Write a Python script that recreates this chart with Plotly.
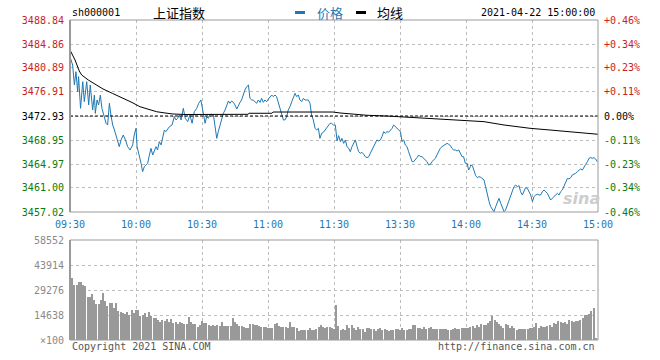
import plotly.graph_objects as go

W, H = 660, 360

# ---------------- data ----------------
symbol = "sh000001"
name = "上证指数"
stamp = "2021-04-22 15:00:00"
prev_close = 3472.93

price_ticks = [3457.02, 3461.00, 3464.97, 3468.95, 3472.93, 3476.91, 3480.89, 3484.86, 3488.84]
price_labels = ["3457.02", "3461.00", "3464.97", "3468.95", "3472.93", "3476.91", "3480.89", "3484.86", "3488.84"]
pct_labels = ["-0.46%", "-0.34%", "-0.23%", "-0.11%", "0.00%", "+0.11%", "+0.23%", "+0.34%", "+0.46%"]
time_ticks = [0, 30, 60, 90, 120, 150, 180, 210, 240]
time_labels = ["09:30", "10:00", "10:30", "11:00", "11:30", "13:30", "14:00", "14:30", "15:00"]
vol_ticks = [0, 14638, 29276, 43914, 58552]
vol_labels = ["×100", "14638", "29276", "43914", "58552"]

# price (trading minutes after 09:30, index points)
t_min = [0, 1.2, 2.0, 2.7, 3.5, 3.9, 4.8, 5.8, 6.5, 7.6, 8.5, 9.2, 10.3, 11.1, 11.5, 12.3, 13.0, 13.8, 14.5, 15.2,
         16.4, 17.1, 17.9, 18.6, 19.4, 20.2, 20.9, 21.7, 22.4, 23.2, 24.2, 25.2, 26.2, 27.3, 28.5, 29.2, 30.0, 30.5,
         31.5, 32.3, 33.0, 33.8, 34.5, 35.3, 36.1, 36.8, 37.6, 38.3, 39.1, 39.8, 40.6, 41.4, 42.1, 42.9, 43.6, 45.2,
         46.4, 47.4, 48.2, 48.9, 49.7, 50.5, 51.5, 52.4, 53.5, 54.5, 55.5, 56.5, 57.6, 58.5, 59.5, 60.6, 61.4, 62.1,
         62.9, 63.6, 64.4, 65.2, 65.9, 66.7, 67.4, 68.2, 68.9, 69.7, 70.5, 71.2, 72.0, 72.7, 73.5, 74.2, 75.0, 75.8,
         76.5, 77.3, 78.0, 78.8, 79.5, 80.3, 81.1, 81.8, 82.6, 83.3, 84.1, 84.8, 85.6, 86.4, 87.1, 87.9, 88.6, 89.4,
         90.2, 90.9, 91.7, 92.4, 93.2, 93.9, 94.7, 95.5, 96.2, 97.0, 97.7, 98.5, 99.2, 100.0, 100.8, 101.5, 102.3,
         103.0, 103.8, 104.5, 105.3, 106.1, 106.8, 107.6, 108.3, 109.1, 109.8, 110.6, 111.4, 112.1, 112.9, 113.6,
         114.4, 115.2, 115.9, 116.7, 117.4, 118.2, 118.9, 119.7, 120.6,
         121.4, 122.1, 122.9, 123.6, 124.4, 125.2, 125.9, 126.7, 127.4, 128.2, 128.9, 129.7, 130.5, 131.2, 132.0,
         132.7, 133.5, 134.2, 135.0, 135.8, 136.5, 137.3, 138.0, 138.8, 139.5, 140.3, 141.1, 141.8, 142.6, 143.3,
         144.1, 144.8, 145.6, 146.4, 147.1, 147.9, 148.6, 149.4, 150.2, 150.9, 151.7, 152.4, 153.2, 153.9, 154.7,
         155.5, 156.2, 157.0, 157.7, 158.5, 159.2, 160.0, 160.8, 161.5, 162.3, 163.0, 163.8, 164.5, 165.3, 166.1,
         166.8, 167.6, 168.3, 169.1, 169.8, 170.6, 171.4, 172.1, 172.9, 173.6, 174.4, 175.2, 175.9, 176.7, 177.4,
         178.2, 178.9, 179.7, 180.5, 181.2, 182.0,
         182.1, 182.9, 183.6, 184.4, 185.2, 185.9, 186.7, 187.4, 188.2, 188.9, 189.7, 190.5, 191.2, 192.0, 192.7,
         193.5, 194.2, 195.0, 195.8, 196.5, 197.3, 198.0, 198.8, 199.5, 200.3, 201.1, 201.8, 202.6, 203.3, 204.1,
         204.8, 205.6, 206.4, 207.1, 207.9, 208.6, 209.4, 210.2, 210.9, 211.7, 212.4, 213.2, 213.9, 214.7, 215.5,
         216.2, 217.0, 217.7, 218.5, 219.2, 220.0, 220.8, 221.5, 222.3, 223.0, 223.8, 224.5, 225.3, 226.1, 226.8,
         227.6, 228.3, 229.1, 229.8, 230.6, 231.4, 232.1, 232.9, 233.6, 234.4, 235.2, 235.9, 236.7, 237.4, 238.2,
         238.9, 239.7]
price = [3482.77, 3481.38, 3478.07, 3480.28, 3476.96, 3479.45, 3474.20, 3478.62, 3475.31, 3478.62, 3474.76, 3478.07,
         3473.93, 3476.41, 3473.37, 3475.58, 3474.76, 3476.41, 3474.20, 3473.10, 3471.72, 3471.44, 3475.03, 3473.10,
         3471.44, 3470.61, 3469.78, 3468.96, 3467.85, 3468.96, 3469.78, 3468.96, 3467.85, 3467.30, 3468.13, 3469.78,
         3470.89, 3467.85, 3466.47, 3465.09, 3463.71, 3464.54, 3464.81, 3465.09, 3466.47, 3467.57, 3466.47, 3467.30,
         3467.85, 3467.30, 3468.68, 3468.13, 3469.51, 3470.61, 3470.34, 3471.17, 3471.44, 3472.82, 3472.27, 3472.55,
         3473.10, 3472.27, 3474.20, 3472.55, 3471.99, 3473.10, 3471.72, 3473.65, 3474.20, 3475.03, 3475.58, 3473.65,
         3471.72, 3472.82, 3472.55, 3473.10, 3473.21, 3473.10, 3470.89, 3469.23, 3470.34, 3471.44, 3472.55, 3473.37,
         3473.93, 3474.76, 3475.42, 3475.03, 3475.42, 3475.20, 3474.76, 3474.09, 3474.76, 3475.20, 3475.58, 3476.69,
         3477.24, 3477.79, 3478.07, 3475.86, 3475.58, 3475.58, 3475.20, 3475.03, 3475.58, 3475.20, 3475.86, 3475.20,
         3475.58, 3475.31, 3475.75, 3476.14, 3476.41, 3476.14, 3476.41, 3476.14, 3475.20, 3474.20, 3473.10, 3472.27,
         3472.27, 3472.82, 3473.93, 3474.48, 3475.31, 3475.86, 3476.69, 3476.14, 3476.41, 3475.58, 3475.31, 3475.86,
         3475.58, 3475.58, 3475.58, 3475.03, 3473.10, 3472.27, 3470.89, 3470.61, 3470.89, 3469.23, 3470.06, 3470.23,
         3470.61, 3470.89, 3471.44, 3471.72, 3471.72, 3471.44, 3471.44,
         3468.79, 3469.67, 3468.68, 3469.23, 3468.40, 3468.96, 3467.85, 3467.57, 3467.02, 3467.85, 3468.40, 3468.96,
         3467.85, 3467.02, 3466.75, 3466.91, 3466.58, 3466.19, 3466.03, 3466.19, 3466.75, 3467.30, 3467.85, 3468.40,
         3468.96, 3468.79, 3468.96, 3469.51, 3470.34, 3470.06, 3470.34, 3470.23, 3470.61, 3470.89, 3471.44, 3471.17,
         3470.89, 3470.72, 3470.34, 3468.68, 3468.96, 3468.13, 3467.85, 3467.02, 3466.19, 3465.36, 3465.36, 3465.64,
         3466.03, 3466.47, 3466.19, 3466.19, 3465.92, 3465.64, 3465.36, 3464.81, 3464.92, 3465.36, 3465.64, 3465.92,
         3466.47, 3467.02, 3467.57, 3467.85, 3468.02, 3468.13, 3468.40, 3468.24, 3468.02, 3467.57, 3467.30, 3467.30,
         3467.13, 3467.30, 3466.75, 3466.19, 3466.19, 3465.09, 3465.09, 3463.98, 3464.54,
         3464.81, 3464.70, 3463.98, 3463.04, 3462.71, 3462.88, 3462.77, 3462.60, 3462.33, 3461.22, 3459.84, 3458.74,
         3457.91, 3457.36, 3457.08, 3457.91, 3458.74, 3459.29, 3458.46, 3457.63, 3457.08, 3457.36, 3458.18, 3459.01,
         3459.56, 3460.39, 3461.22, 3461.50, 3461.22, 3461.39, 3460.39, 3459.84, 3460.67, 3461.06, 3460.94, 3460.39,
         3459.84, 3458.74, 3459.56, 3459.84, 3459.95, 3459.84, 3459.84, 3460.39, 3460.67, 3460.39, 3460.11, 3459.56,
         3459.01, 3459.29, 3459.56, 3459.84, 3460.11, 3459.84, 3460.39, 3460.67, 3461.22, 3461.77, 3462.60, 3462.49,
         3462.71, 3463.16, 3463.27, 3463.43, 3463.71, 3463.98, 3464.15, 3463.98, 3464.54, 3464.92, 3465.36, 3465.92,
         3466.03, 3465.92, 3466.03, 3465.81, 3465.36]

# average line
avg_t = [0, 2.3, 4.2, 5.3, 8.3, 11.4, 15.0, 19.4, 24.1, 28.2, 31.8, 35.5, 39.4, 43.2, 46.8, 52.3, 80.9, 81.4,
         91.8, 92.3, 119.5, 122.7, 128.2, 135.0, 144.1, 155.9, 162.3, 169.1, 179.1, 188.2, 197.3, 209.1, 218.2,
         225.9, 233.6, 240]
avg_p = [3483.87, 3482.21, 3480.39, 3479.73, 3478.90, 3478.23, 3477.41, 3476.66, 3475.91, 3475.17, 3474.47,
         3474.01, 3473.64, 3473.43, 3473.26, 3473.18, 3473.21, 3473.38, 3473.38, 3473.59, 3473.59, 3473.43,
         3473.21, 3473.05, 3472.93, 3472.71, 3472.55, 3472.38, 3472.23, 3471.99, 3471.44, 3470.89, 3470.61,
         3470.33, 3470.06, 3469.90]

# volume (x100 shares), one bar per minute
vol_am = [36497, 32204, 32204, 33765, 33765, 32204, 31812, 25372, 25372, 26934,
          23421, 21079, 21079, 23421, 27519, 23031, 19908, 21470, 21470, 18931,
          21470, 16980, 16200, 15900, 15030, 16200, 14638, 17566, 15614, 17566,
          17566, 14248, 14638, 15614, 13662, 16200, 14248, 13077, 13077, 11710,
          10735, 11710, 11125, 12296, 10735, 12101, 10149, 10735, 9173, 10344,
          9759, 9173, 9173, 13272, 10735, 9564, 9564, 7806, 8783, 11125,
          10149, 9759, 8783, 8392, 8783, 8392, 8783, 8392, 10735, 8392,
          8392, 8392, 8392, 12686, 10344, 9173, 8392, 8392, 7806, 6831,
          7221, 9173, 9368, 8783, 8783, 8197, 7806, 7806, 7416, 6831,
          7221, 6831, 9173, 10149, 8392, 7806, 7806, 7806, 6831, 10735,
          7806, 7806, 7221, 5465, 5855, 5855, 5855, 5855, 6831, 5855,
          5855, 6441, 7416, 8783, 7806, 6831, 7806, 7806, 6831, 6441]
vol_pm = [20493, 8392, 5855, 6441, 5855, 8783, 7221, 8783, 6831, 5855,
          7806, 6246, 6246, 4879, 7221, 6831, 6441, 6441, 5465, 6441,
          7221, 5855, 6246, 5855, 5465, 5855, 5855, 6246, 6246, 5855,
          6831, 5855, 5855, 6246, 6246, 8783, 8783, 7221, 7221, 6441,
          7611, 6246, 6831, 7806, 6441, 6246, 6441, 6246, 6246, 6441,
          6246, 5855, 5855, 6246, 6831, 6441, 6246, 6831, 6831, 7221,
          7221, 7806, 8392, 7221, 8783, 7806, 9173, 8783, 8783, 9759,
          11125, 14248, 11710, 10735, 9173, 8392, 7221, 9173, 8783, 7221,
          8392, 7221, 5855, 6246, 6246, 6441, 6441, 6441, 7221, 6831,
          7806, 9759, 7221, 8392, 7806, 7806, 8392, 8783, 7806, 9759,
          9173, 11125, 10344, 9759, 10344, 9173, 11710, 11125, 10735, 11125,
          11125, 11710, 12686, 14638, 14638, 15030, 16980, 18931, 976]
volume = vol_am + vol_pm
vol_minute = list(range(1, len(volume) + 1))

# ---------------- styling ----------------
RED = "#c81e1e"
GREEN = "#0b7a0b"
BLUE = "#1f78b4"
GRID = "#bdbdbd"
BORDER = "#9a9a9a"
MONO = "DejaVu Sans Mono"
CJK = "Noto Sans CJK SC"


def px(x):
    return x / W


def py(y):
    return 1 - y / H


def colour_for(v):
    if v > prev_close + 0.001:
        return RED
    if v < prev_close - 0.001:
        return GREEN
    return "#000000"


left_text = [f"<span style='color:{colour_for(v)}'>{t}</span>" for v, t in zip(price_ticks, price_labels)]
right_text = [f"<span style='color:{colour_for(v)}'>{t}</span>" for v, t in zip(price_ticks, pct_labels)]

fig = go.Figure()
fig.add_trace(go.Scatter(x=t_min, y=price, mode="lines", line=dict(color=BLUE, width=1),
                         xaxis="x", yaxis="y", hoverinfo="skip", showlegend=False))
fig.add_trace(go.Scatter(x=avg_t, y=avg_p, mode="lines", line=dict(color="#000000", width=1),
                         xaxis="x", yaxis="y2", hoverinfo="skip", showlegend=False))
fig.add_trace(go.Bar(x=vol_minute, y=volume, width=0.45, marker=dict(color="#999999", line=dict(width=0)),
                     xaxis="x2", yaxis="y3", hoverinfo="skip", showlegend=False))

xdom = [px(70), px(598)]
common_grid = dict(showgrid=True, gridcolor=GRID, griddash="dot", gridwidth=1, zeroline=False, showline=False,
                   automargin=False)

fig.update_layout(
    width=W, height=H, margin=dict(l=0, r=0, t=0, b=0),
    paper_bgcolor="white", plot_bgcolor="white",
    bargap=0,
    xaxis=dict(domain=xdom, range=[0, 240], anchor="y", tickmode="array", tickvals=time_ticks,
               ticktext=time_labels, tickfont=dict(family=MONO, size=10, color=BLUE),
               ticks="", ticklabelstandoff=5, **common_grid),
    yaxis=dict(domain=[py(212), py(20)], range=[price_ticks[0], price_ticks[-1]], anchor="x",
               tickmode="array", tickvals=price_ticks, ticktext=left_text,
               tickfont=dict(family=MONO, size=10), ticks="", ticklabelstandoff=5, **common_grid),
    yaxis2=dict(overlaying="y", side="right", anchor="x", range=[price_ticks[0], price_ticks[-1]],
                tickmode="array", tickvals=price_ticks, ticktext=right_text,
                tickfont=dict(family=MONO, size=10), ticks="", ticklabelstandoff=5,
                showgrid=False, zeroline=False, showline=False, automargin=False),
    xaxis2=dict(domain=xdom, range=[0, 240], anchor="y3", tickmode="array", tickvals=time_ticks,
                showticklabels=False, ticks="", **common_grid),
    yaxis3=dict(domain=[py(340), py(240)], range=[0, vol_ticks[-1]], anchor="x2", tickmode="array",
                tickvals=vol_ticks, ticktext=vol_labels, tickfont=dict(family=MONO, size=10, color="#8a8a8a"),
                ticks="", ticklabelstandoff=5, **common_grid),
)

shapes = []
# previous close dashed line
shapes.append(dict(type="line", xref="x", yref="y", x0=0, x1=240, y0=prev_close, y1=prev_close,
                   line=dict(color="#000000", width=1, dash="3px,2px")))
# panel borders
for top, bot in [(20, 212), (240, 340)]:
    shapes.append(dict(type="line", xref="paper", yref="paper", x0=px(70), x1=px(598), y0=py(top), y1=py(top),
                       line=dict(color=BORDER, width=1)))
    shapes.append(dict(type="line", xref="paper", yref="paper", x0=px(70), x1=px(598), y0=py(bot), y1=py(bot),
                       line=dict(color=BORDER, width=1)))
    shapes.append(dict(type="line", xref="paper", yref="paper", x0=px(598), x1=px(598), y0=py(top), y1=py(bot),
                       line=dict(color=BORDER, width=1)))
    shapes.append(dict(type="line", xref="paper", yref="paper", x0=px(70), x1=px(70), y0=py(top), y1=py(bot),
                       line=dict(color=BORDER, width=2)))
# legend swatches
shapes.append(dict(type="rect", xref="paper", yref="paper", x0=px(295), x1=px(305), y0=py(14), y1=py(11),
                   fillcolor=BLUE, line=dict(width=0)))
shapes.append(dict(type="rect", xref="paper", yref="paper", x0=px(356), x1=px(366), y0=py(14), y1=py(11),
                   fillcolor="#000000", line=dict(width=0)))
fig.update_layout(shapes=shapes)

ann = [
    dict(text=symbol, x=px(70), y=py(13), xanchor="left", font=dict(family=MONO, size=10, color="#000")),
    dict(text=name, x=px(151), y=py(13), xanchor="left", font=dict(family=CJK, size=13, color="#000")),
    dict(text="价格", x=px(315), y=py(13), xanchor="left", font=dict(family=CJK, size=13, color=BLUE)),
    dict(text="均线", x=px(375), y=py(13), xanchor="left", font=dict(family=CJK, size=13, color="#000")),
    dict(text=stamp, x=px(597), y=py(13), xanchor="right", font=dict(family=MONO, size=10, color="#000")),
    dict(text="Copyright 2021 SINA.COM", x=px(70), y=py(346), xanchor="left",
         font=dict(family=MONO, size=10, color="#555")),
    dict(text="http://finance.sina.com.cn", x=px(597), y=py(346), xanchor="right",
         font=dict(family=MONO, size=10, color="#555")),
    dict(text="<b><i>sina</i></b>", x=px(581), y=py(198), xanchor="center",
         font=dict(family="DejaVu Sans", size=16, color="#cdcdcd")),
]
for a in ann:
    a.update(xref="paper", yref="paper", yanchor="middle", showarrow=False)
fig.update_layout(annotations=ann)

fig.write_html("out.html", config={"displayModeBar": False},
               post_script="document.body.style.margin='0';document.body.style.padding='0';")
